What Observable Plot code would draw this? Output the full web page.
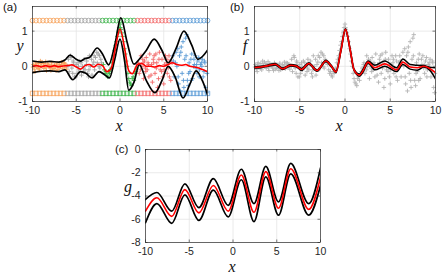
<!DOCTYPE html>
<html><head><meta charset="utf-8">
<script src="https://cdn.jsdelivr.net/npm/d3@7"></script>
<script src="https://cdn.jsdelivr.net/npm/@observablehq/plot@0.6"></script>
<style>
body{margin:0;background:#fff;}
#wrap{position:relative;width:443px;height:273px;overflow:hidden;font-family:"Liberation Sans",Arial,sans-serif;}
.p{position:absolute;}
.lbl{position:absolute;font-size:11.5px;color:#111;line-height:1;}
.ax{position:absolute;font-family:"Liberation Serif","Times New Roman",serif;font-style:italic;font-size:16px;line-height:11px;transform:translate(-50%,-50%);color:#111;}
</style></head><body><div id="wrap"></div>
<script>
// ---------- tick labels ----------
const xTicks = [-10, -5, 0, 5, 10];
const abYTicks = [-1, 0, 1];
const cYTicks = [-8, -6, -4, -2, 0];

// ---------- observations (segments by colour) ----------
const orangeX = [-9.9,-9.8,-9.6,-9.5,-9.3,-9.2,-9.0,-8.9,-8.7,-8.6,-8.4,-8.3,-8.1,-8.0,-7.8,-7.7,-7.5,-7.4,-7.2,-7.1,-6.9,-6.8,-6.6,-6.5,-6.3,-6.2,-9.7,-9.1,-8.5,-7.9,-7.3,-6.7,
  -9.95,-9.65,-9.35,-9.05,-8.75,-8.45,-8.15,-7.85,-7.55,-7.25,-6.95,-6.65,-6.35,-6.1];
const orangeY = [0.05,-0.08,0.1,-0.03,0.08,-0.1,0.03,0.12,-0.06,0.02,-0.12,0.07,0.0,-0.05,0.1,-0.08,0.04,-0.02,0.09,-0.1,0.05,0.0,-0.07,0.1,-0.03,0.06,-0.15,0.15,0.13,-0.12,-0.12,0.12,
  -0.02,0.06,-0.06,0.0,0.08,-0.04,0.05,0.02,-0.06,0.03,-0.04,0.04,0.09,-0.08];
const grayX = [-5.9,-5.8,-5.6,-5.5,-5.3,-5.2,-5.0,-4.9,-4.7,-4.6,-4.4,-4.3,-4.1,-4.0,-3.8,-3.7,-3.5,-3.4,-3.2,-3.1,-2.9,-2.8,-2.6,-2.5,-2.3,-2.2,-5.4,-4.8,-4.2,-3.6,-3.0,-2.4,
  -5.95,-5.65,-5.35,-5.05,-4.75,-4.45,-4.15,-3.85,-3.55,-3.25,-2.95,-2.65,-2.35,-2.1];
const grayY = [0.2,-0.15,0.25,-0.05,0.1,-0.3,0.05,-0.2,-0.1,0.15,-0.25,0.0,0.2,-0.1,0.15,-0.2,0.3,0.0,-0.25,0.05,-0.1,0.25,0.1,0.35,-0.05,0.2,-0.2,0.1,-0.15,-0.3,0.12,0.0,
  0.0,0.3,0.15,-0.3,0.0,0.1,-0.05,0.05,-0.1,0.2,0.3,0.4,0.3,0.1];
const greenX = [-1.9,-1.8,-1.6,-1.5,-1.4,-1.2,-1.1,-0.9,-0.8,-0.6,-0.5,-0.3,-0.2,-0.1,0.0,0.1,0.2,0.4,0.5,0.6,0.8,0.9,1.0,1.2,1.3,1.5,1.6,1.8,1.9,
  -1.7,-1.3,-1.0,-0.7,-0.4,-0.15,0.05,0.3,0.7,1.1,1.4,1.7];
const greenY = [0.05,-0.1,-0.15,-0.25,-0.3,-0.2,-0.1,0.1,0.2,0.45,0.6,0.85,0.95,1.1,1.2,1.05,0.95,0.7,0.5,0.35,0.0,-0.2,-0.35,-0.5,-0.55,-0.3,-0.4,-0.15,-0.05,
  -0.2,-0.15,-0.05,0.3,0.7,1.0,1.1,0.85,0.15,-0.45,-0.35,-0.2];
const redX = [2.1,2.2,2.4,2.5,2.7,2.8,3.0,3.1,3.3,3.4,3.6,3.7,3.9,4.0,4.2,4.3,4.5,4.6,4.8,4.9,5.1,5.2,5.4,5.5,5.7,5.8,2.6,3.2,3.8,4.4,5.0,5.6,2.9,4.1,5.3,
  2.05,2.35,2.65,2.95,3.25,3.55,3.85,4.15,4.45,4.75,5.05,5.35,5.65,5.95];
const redY = [0.1,-0.2,0.3,0.0,-0.35,0.15,0.25,-0.1,-0.3,0.35,0.05,-0.45,0.3,-0.2,0.1,-0.6,0.4,-0.1,0.2,-0.3,0.05,0.3,-0.2,-0.05,0.15,-0.4,0.2,0.1,0.2,-0.35,-0.5,0.3,-0.05,0.35,0.1,
  0.05,-0.1,0.1,-0.15,0.05,-0.25,0.1,-0.05,0.2,-0.15,-0.1,0.2,-0.3,0.1];
const blueX = [6.1,6.2,6.4,6.5,6.7,6.8,7.0,7.1,7.3,7.4,7.6,7.7,7.9,8.0,8.2,8.3,8.5,8.6,8.8,8.9,9.1,9.2,9.4,9.5,9.7,9.8,9.9,6.6,7.2,7.8,8.4,9.0,9.6,6.9,7.5,8.1,8.7,9.3,
  6.05,6.35,6.65,6.95,7.25,7.55,7.85,8.15,8.45,8.75,9.05,9.35,9.65,9.95];
const blueY = [0.15,-0.3,0.4,0.0,-0.5,0.3,0.55,-0.2,-0.6,0.2,0.9,-0.4,0.1,-0.15,0.35,-0.35,0.05,0.3,-0.2,0.15,-0.1,0.05,0.2,-0.3,0.1,-0.6,-0.75,0.5,0.7,-0.55,0.0,0.25,-0.15,-0.7,0.8,0.2,-0.05,0.1,
  0.3,0.1,-0.3,0.4,-0.4,0.3,-0.2,-0.4,0.2,0.05,-0.3,0.0,0.15,-0.2];

// ---------- marker rows (top circles / bottom squares) ----------
const rowX = [-10,-9.6,-9.2,-8.8,-8.4,-8.0,-7.6,-7.2,-6.8,-6.4,-6.0,-5.6,-5.2,-4.8,-4.4,-4.0,-3.6,-3.2,-2.8,-2.4,-2.0,-1.6,-1.2,-0.8,-0.4,0.0,0.4,0.8,1.2,1.6,2.0,2.4,2.8,3.2,3.6,4.0,4.4,4.8,5.2,5.6,6.0,6.4,6.8,7.2,7.6,8.0,8.4,8.8,9.2,9.6,10.0];
const rowTopY = 1.3;
const rowBotY = -0.77;
const segBounds = [-6, -2, 2, 6];
const segColors = ["#f6a25a", "#a3a3a3", "#3cb44a", "#f26a6a", "#5b9bd5"];

// ---------- panel (a) curves ----------
const aUpX = [-10,-9,-8,-7,-6.3,-5.7,-5.0,-4.5,-4.0,-3.5,-2.6,-2.0,-1.3,-0.6,0.1,0.8,1.6,2.2,3.0,3.9,4.8,5.5,6.4,7.3,8.2,8.9,9.5,10];
const aUpY = [0.15,0.12,0.14,0.12,0.18,0.32,0.2,0.15,0.22,0.25,0.52,0.35,0.04,0.6,1.38,0.7,0.06,0.2,0.45,0.77,0.45,0.1,0.5,1.0,0.6,0.2,0.3,0.46];
const aLoX = [-10,-9,-8,-7,-6.3,-5.4,-4.5,-3.9,-3.2,-2.4,-1.7,-1.2,-0.6,0.0,0.5,1.0,1.6,2.2,3.0,4.0,4.8,5.5,6.3,7.2,8.0,8.7,9.4,10];
const aLoY = [-0.18,-0.14,-0.13,-0.15,-0.1,-0.38,-0.15,-0.2,-0.33,-0.15,-0.25,-0.33,0.2,0.77,0.2,-0.68,-0.45,0.05,-0.4,-0.75,-0.4,0.0,-0.3,-0.9,-0.5,-0.13,-0.4,-0.8];
const aMeanX = [-10,-9.5,-9,-8.5,-8,-7.5,-7,-6.5,-6,-5.5,-5,-4.5,-4,-3.5,-3,-2.5,-2,-1.5,-1,-0.5,0,0.5,1,1.4,2,2.5,3,3.5,4,4.5,5,5.5,6,6.5,7,7.5,8,8.5,9,9.5,10];
const aMeanY = [0,0.02,-0.02,0.02,-0.01,0.02,-0.01,0.01,0.02,0.04,-0.02,-0.08,0.02,0.05,-0.02,0.06,0.02,-0.15,-0.05,0.55,1.06,0.55,-0.12,-0.21,0.05,0.08,0.0,0.0,-0.02,0.02,0.0,0.05,0.1,0.05,0.03,0.05,0.0,-0.02,-0.05,-0.1,-0.15];

// ---------- panel (b) curves ----------
const bX = [-10,-9.3,-8.5,-7.7,-6.9,-6.0,-5.4,-4.8,-4.0,-3.1,-2.1,-1.5,-1.0,-0.45,0.05,0.55,1.0,1.6,2.0,2.55,3.3,4.4,5.7,6.4,7.2,8.0,8.7,9.4,10];
const bMeanY = [-0.03,-0.02,0.02,0.06,-0.07,0.03,0.01,-0.09,0.08,-0.12,0.15,0.0,-0.16,0.45,1.05,0.5,-0.1,-0.25,-0.12,0.12,-0.04,0.07,-0.1,0.12,-0.02,-0.04,0.0,-0.07,-0.18];
const bUpY = [-0.01,0.0,0.04,0.08,-0.05,0.05,0.03,-0.06,0.1,-0.1,0.17,0.02,-0.14,0.47,1.07,0.52,-0.08,-0.22,-0.08,0.15,0.03,0.15,-0.04,0.21,0.05,0.03,0.02,-0.03,-0.04];
const bLoY = [-0.05,-0.04,0.0,0.04,-0.09,0.01,-0.01,-0.12,0.06,-0.14,0.13,-0.02,-0.18,0.43,1.03,0.48,-0.12,-0.28,-0.16,0.09,-0.1,0.0,-0.15,0.05,-0.08,-0.11,-0.02,-0.12,-0.36];

// ---------- panel (c) curves ----------
const cX = [-10,-8.7,-7.0,-5.5,-3.9,-2.25,-0.55,0.95,2.4,3.75,5.2,6.6,8.65,10];
const cMeanY = [-5.3,-4.15,-5.75,-3.45,-5.45,-3.1,-5.3,-2.2,-5.4,-1.9,-5.05,-1.65,-5.15,-2.4];
const cUpY = [-4.3,-3.7,-5.3,-2.95,-5.0,-2.5,-4.8,-1.7,-4.65,-1.45,-4.5,-1.2,-4.65,-1.6];
const cLoY = [-6.3,-4.65,-6.35,-3.9,-6.1,-3.5,-5.8,-2.6,-6.2,-2.35,-5.65,-2.1,-5.65,-3.1];

// ---------- helpers ----------
const pts = (xs, ys) => xs.map((x, i) => ({x, y: ys[i]}));
const segOf = x => segBounds.filter(b => x >= b).length;
const segData = [[orangeX,orangeY],[grayX,grayY],[greenX,greenY],[redX,redY],[blueX,blueY]];
const allPts = segData.flatMap(([xs, ys]) => pts(xs, ys));
const rowData = rowX.map(x => ({x, c: segColors[Math.min(segOf(x), 4)]}));

// thin stroked "+" marker whose half-arm equals r
const plusSym = {draw(ctx, size) { const h = Math.sqrt(size / Math.PI); ctx.moveTo(-h, 0); ctx.lineTo(h, 0); ctx.moveTo(0, -h); ctx.lineTo(0, h); }};

function line(data, color, w) {
  return Plot.line(data, {x: "x", y: "y", stroke: color, strokeWidth: w, curve: "monotone-x", clip: true});
}

function makePanel(o) {
  const [y0, y1] = o.yDomain;
  const ph = o.height - o.mt - o.mb, pw = o.width - o.ml - o.mr;
  const dy = (y1 - y0) * 2.5 / ph, dx = 20 * 2.5 / pw;
  const gx = xTicks.filter(t => t > -10 && t < 10);
  const gy = o.yTicks.filter(t => t > y0 && t < y1);
  const tk = {stroke: "#262626", strokeWidth: 0.6};
  return Plot.plot({
    width: o.width, height: o.height,
    marginLeft: o.ml, marginRight: o.mr, marginTop: o.mt, marginBottom: o.mb,
    x: {domain: [-10, 10]}, y: {domain: o.yDomain},
    style: {fontFamily: "Liberation Sans, Arial, sans-serif", fontSize: "10.5px", color: "#262626", background: "transparent", overflow: "visible"},
    marks: [
      Plot.ruleX(gx, {stroke: "#e4e4e4", strokeWidth: 0.8}),
      Plot.ruleY(gy, {stroke: "#e4e4e4", strokeWidth: 0.8}),
      ...o.marks,
      Plot.ruleX(xTicks, {y1: y0, y2: y0 + dy, ...tk}),
      Plot.ruleX(xTicks, {y1: y1, y2: y1 - dy, ...tk}),
      Plot.ruleY(o.yTicks, {x1: -10, x2: -10 + dx, ...tk}),
      Plot.ruleY(o.yTicks, {x1: 10, x2: 10 - dx, ...tk}),
      Plot.frame({stroke: "#262626", strokeWidth: 0.7}),
      Plot.axisX({ticks: xTicks, tickSize: 0, tickPadding: 5, tickFormat: d => String(d), label: null}),
      Plot.axisY({ticks: o.yTicks, tickSize: 0, tickPadding: 5, tickFormat: d => String(d), label: null})
    ]
  });
}

const wrap = document.getElementById("wrap");
function place(el, left, top) { el.classList.add("p"); el.style.left = left + "px"; el.style.top = top + "px"; wrap.appendChild(el); }
function text(cls, s, left, top) { const d = document.createElement("div"); d.className = cls; d.textContent = s; d.style.left = left + "px"; d.style.top = top + "px"; wrap.appendChild(d); }

// panel (a)
const aMarks = [
  Plot.dot(rowData, {x: "x", y: () => rowTopY, symbol: "circle", r: 2.4, fill: "none", stroke: "c", strokeWidth: 0.8}),
  Plot.dot(rowData, {x: "x", y: () => rowBotY, symbol: "square", r: 2.5, fill: "none", stroke: "c", strokeWidth: 0.8}),
  ...segData.map(([xs, ys], i) => Plot.dot(pts(xs, ys), {x: "x", y: "y", symbol: plusSym, r: 2.2, fill: "none", stroke: segColors[i], strokeWidth: 0.9})),
  line(pts(aUpX, aUpY), "#000", 1.7),
  line(pts(aLoX, aLoY), "#000", 1.7),
  line(pts(aMeanX, aMeanY), "#ff0000", 1.6)
];
place(makePanel({width: 222, height: 135, ml: 32, mr: 15, mt: 6, mb: 34, yDomain: [-1, 1.7], yTicks: abYTicks, marks: aMarks}), 0, 0);

// panel (b)
const bMarks = [
  Plot.dot(allPts, {x: "x", y: "y", symbol: plusSym, r: 2.2, fill: "none", stroke: "#b3b3b3", strokeWidth: 0.9}),
  line(pts(bX, bUpY), "#000", 1.5),
  line(pts(bX, bLoY), "#000", 1.5),
  line(pts(bX, bMeanY), "#ff0000", 1.6)
];
place(makePanel({width: 221, height: 135, ml: 32, mr: 8, mt: 6, mb: 34, yDomain: [-1, 1.7], yTicks: abYTicks, marks: bMarks}), 222, 0);

// panel (c)
const cMarks = [
  line(pts(cX, cUpY), "#000", 1.7),
  line(pts(cX, cLoY), "#000", 1.7),
  line(pts(cX, cMeanY), "#ff0000", 1.6)
];
place(makePanel({width: 260, height: 138, ml: 55, mr: 30, mt: 14, mb: 31, yDomain: [-8, 0], yTicks: cYTicks, marks: cMarks}), 90, 135);

// panel letters and axis labels
text("lbl", "(a)", 3, 2);
text("lbl", "(b)", 230, 2);
text("lbl", "(c)", 115, 144);
text("ax", "y", 20, 45);
text("ax", "x", 119, 125);
text("ax", "f", 245, 45);
text("ax", "x", 339, 125);
text("ax", "g", 128, 186);
text("ax", "x", 232, 266);
</script>
</body></html>
